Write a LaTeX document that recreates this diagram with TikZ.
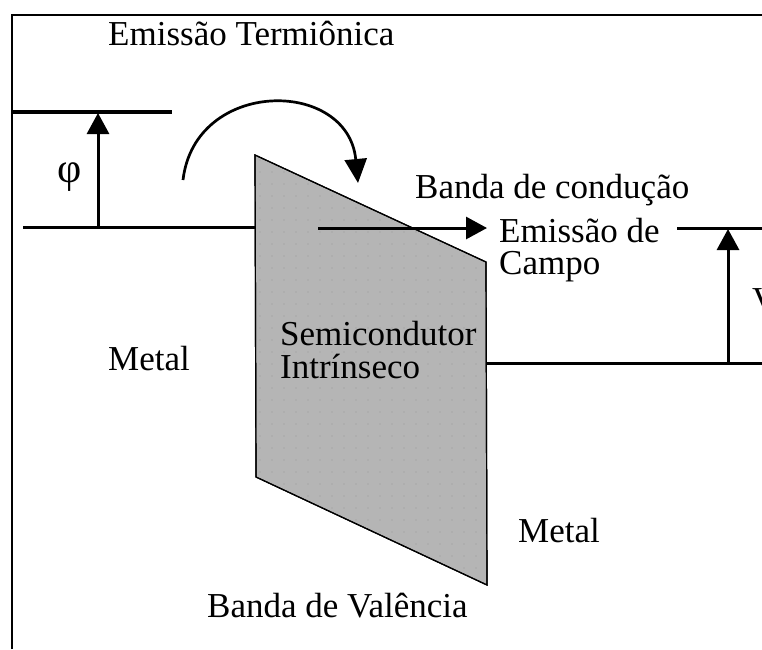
\documentclass[tikz,border=0pt]{standalone}
\usepackage{fontspec}
\setmainfont{Liberation Serif}
\usetikzlibrary{arrows.meta}
\begin{document}
\begin{tikzpicture}[x=1pt,y=-1pt,
  lbl/.style={anchor=base west,inner sep=0pt,font=\fontsize{35}{40}\selectfont},
  level/.style={line width=3.5pt},
  shaft/.style={line width=3pt,-{Triangle[width=22pt,length=21pt]}},
  frameline/.style={line width=2.5pt},
  semi/.style={fill=black!29,draw=black,line width=1.2pt}
]
\useasboundingbox (0,0) rectangle (762,649);
% frame
\coordinate (fb) at (12,649);
\coordinate (ftl) at (12,15);
\coordinate (fr) at (762,15);
\draw[frameline] (fb) -- (ftl) -- (fr);

% coordinates
\coordinate (p1) at (255,155);
\coordinate (p2) at (486,262);
\coordinate (p3) at (487,585);
\coordinate (p4) at (256,477);

\coordinate (lt1) at (13,112);
\coordinate (lt2) at (172,112);
\coordinate (lb1) at (23,227);
\coordinate (lb2) at (255,227);
\coordinate (phib) at (98,227);
\coordinate (phit) at (98,113);

\coordinate (ru1) at (677,228);
\coordinate (ru2) at (762,228);
\coordinate (rl1) at (486,363);
\coordinate (rl2) at (762,363);
\coordinate (vb) at (728,363);
\coordinate (vt) at (728,229);

\coordinate (fa) at (318,228);
\coordinate (fe) at (487,228);

\coordinate (ta) at (183,180);
\coordinate (te) at (358,183);

% metal levels (left)
\draw[level,line width=4pt] (lt1) -- (lt2);
\draw[level,line width=3pt] (lb1) -- (lb2);
\draw[shaft] (phib) -- (phit);

% semiconductor
\draw[semi] (p1) -- (p2) -- (p3) -- (p4) -- cycle;
\begin{scope}
  \clip (p1) -- (p2) -- (p3) -- (p4) -- cycle;
  \foreach \i in {0,...,19}{
    \foreach \j in {0,...,36}{
      \fill[black!40] (260+12*\i,160+12*\j) circle (0.7);
    }
  }
\end{scope}
\draw[draw=black,line width=1.2pt] (p1) -- (p2) -- (p3) -- (p4) -- cycle;

% right metal
\draw[level,line width=3pt] (ru1) -- (ru2);
\draw[level,line width=3pt] (rl1) -- (rl2);
\draw[shaft] (vb) -- (vt);

% field emission arrow
\draw[shaft] (fa) -- (fe);

% thermionic arc
\draw[line width=2.7pt,-{Triangle[width=22pt,length=24pt]}] (ta) .. controls (195,78) and (348,78) .. (te);

% labels
\node[lbl] (t1) at (108,45) {Emissão Termiônica};
\node[lbl,anchor=base,font=\fontsize{42}{46}\selectfont] (phi) at (70,182) {φ};
\node[lbl] (t2) at (415,198) {Banda de condução};
\node[lbl] (t3) at (499,242) {Emissão de};
\node[lbl] (t4) at (499,274) {Campo};
\node[lbl] (t5) at (280,345) {Semicondutor};
\node[lbl] (t6) at (280,378) {Intrínseco};
\node[lbl] (t7) at (108,370) {Metal};
\node[lbl] (t8) at (518,542) {Metal};
\node[lbl] (t9) at (207,617) {Banda de Valência};
\node[lbl] (t10) at (752,311) {V};
\end{tikzpicture}
\end{document}
